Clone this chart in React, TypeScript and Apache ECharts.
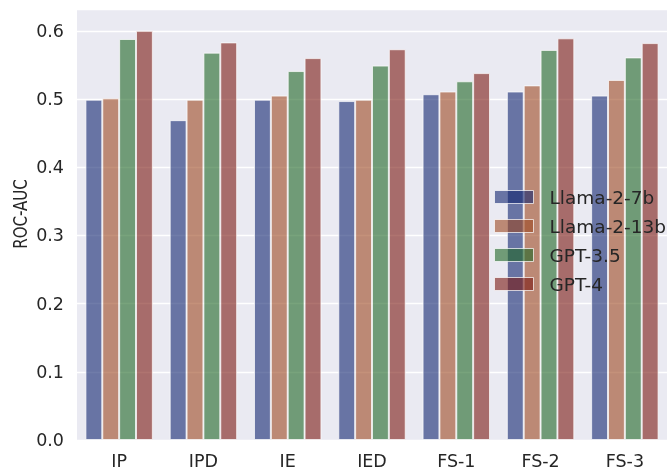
import React, { useEffect, useRef } from "react";
import * as echarts from "echarts";

const categories = ["IP", "IPD", "IE", "IED", "FS-1", "FS-2", "FS-3"];
const seriesNames = ["Llama-2-7b", "Llama-2-13b", "GPT-3.5", "GPT-4"];
const llama7b = [0.499, 0.469, 0.499, 0.497, 0.507, 0.511, 0.505];
const llama13b = [0.501, 0.499, 0.505, 0.499, 0.511, 0.52, 0.528];
const gpt35 = [0.588, 0.568, 0.541, 0.549, 0.526, 0.572, 0.561];
const gpt4 = [0.6, 0.583, 0.56, 0.573, 0.538, 0.589, 0.582];
const seriesValues = [llama7b, llama13b, gpt35, gpt4];
const colors = [
  "rgba(16,37,111,0.6)",
  "rgba(156,72,34,0.6)",
  "rgba(30,101,37,0.6)",
  "rgba(122,23,17,0.6)",
];
const yMax = 0.632;
const yTitle = "ROC-AUC";
const textColor = "#262626";
const font = "DejaVu Sans";

export default function App() {
  const ref = useRef<HTMLDivElement>(null);
  useEffect(() => {
    const chart = echarts.init(ref.current!, null, { renderer: "svg" });
    chart.setOption({
      animation: false,
      textStyle: { fontFamily: font },
      grid: {
        left: 77,
        right: 4,
        top: 9,
        bottom: 28,
        show: true,
        backgroundColor: "#eaeaf2",
        borderWidth: 0,
      },
      graphic: [
        {
          type: "text",
          x: 20.5,
          y: 214,
          rotation: Math.PI / 2,
          scaleX: 0.77,
          scaleY: 1,
          style: {
            text: yTitle,
            fontFamily: font,
            fontSize: 19.5,
            fill: textColor,
            textAlign: "center",
            textVerticalAlign: "middle",
          },
        },
      ],
      legend: {
        orient: "vertical",
        left: 494,
        top: 187,
        padding: 0,
        itemWidth: 39,
        itemHeight: 13,
        itemGap: 9,
        icon: "rect",
        textStyle: {
          fontFamily: font,
          fontSize: 18.5,
          color: textColor,
          lineHeight: 20,
          padding: [0, 0, 0, 11],
        },
        itemStyle: { borderColor: "rgba(255,255,255,0.7)", borderWidth: 1 },
        data: seriesNames,
      },
      xAxis: {
        type: "category",
        data: categories,
        axisLine: { show: false },
        axisTick: { show: false },
        axisLabel: {
          fontFamily: font,
          fontSize: 17.5,
          color: textColor,
          margin: 12,
        },
        splitLine: { show: false },
      },
      yAxis: {
        type: "value",
        min: 0,
        max: yMax,
        interval: 0.1,
        axisLine: { show: false },
        axisTick: { show: false },
        axisLabel: {
          fontFamily: font,
          fontSize: 17.5,
          color: textColor,
          margin: 13,
          padding: [3, 0, 0, 0],
          showMaxLabel: false,
          formatter: (v: number) => v.toFixed(1),
        },
        splitLine: { show: true, lineStyle: { color: "#ffffff", width: 1.3 } },
      },
      series: seriesNames.map((name, i) => ({
        name,
        type: "bar",
        data: seriesValues[i],
        barGap: "0%",
        barCategoryGap: "20%",
        itemStyle: {
          color: colors[i],
          borderColor: "rgba(255,255,255,0.7)",
          borderWidth: 1,
        },
      })),
    });
    return () => chart.dispose();
  }, []);
  return (
    <div
      ref={ref}
      style={{ position: "fixed", left: 0, top: 0, width: 671, height: 470 }}
    />
  );
}
